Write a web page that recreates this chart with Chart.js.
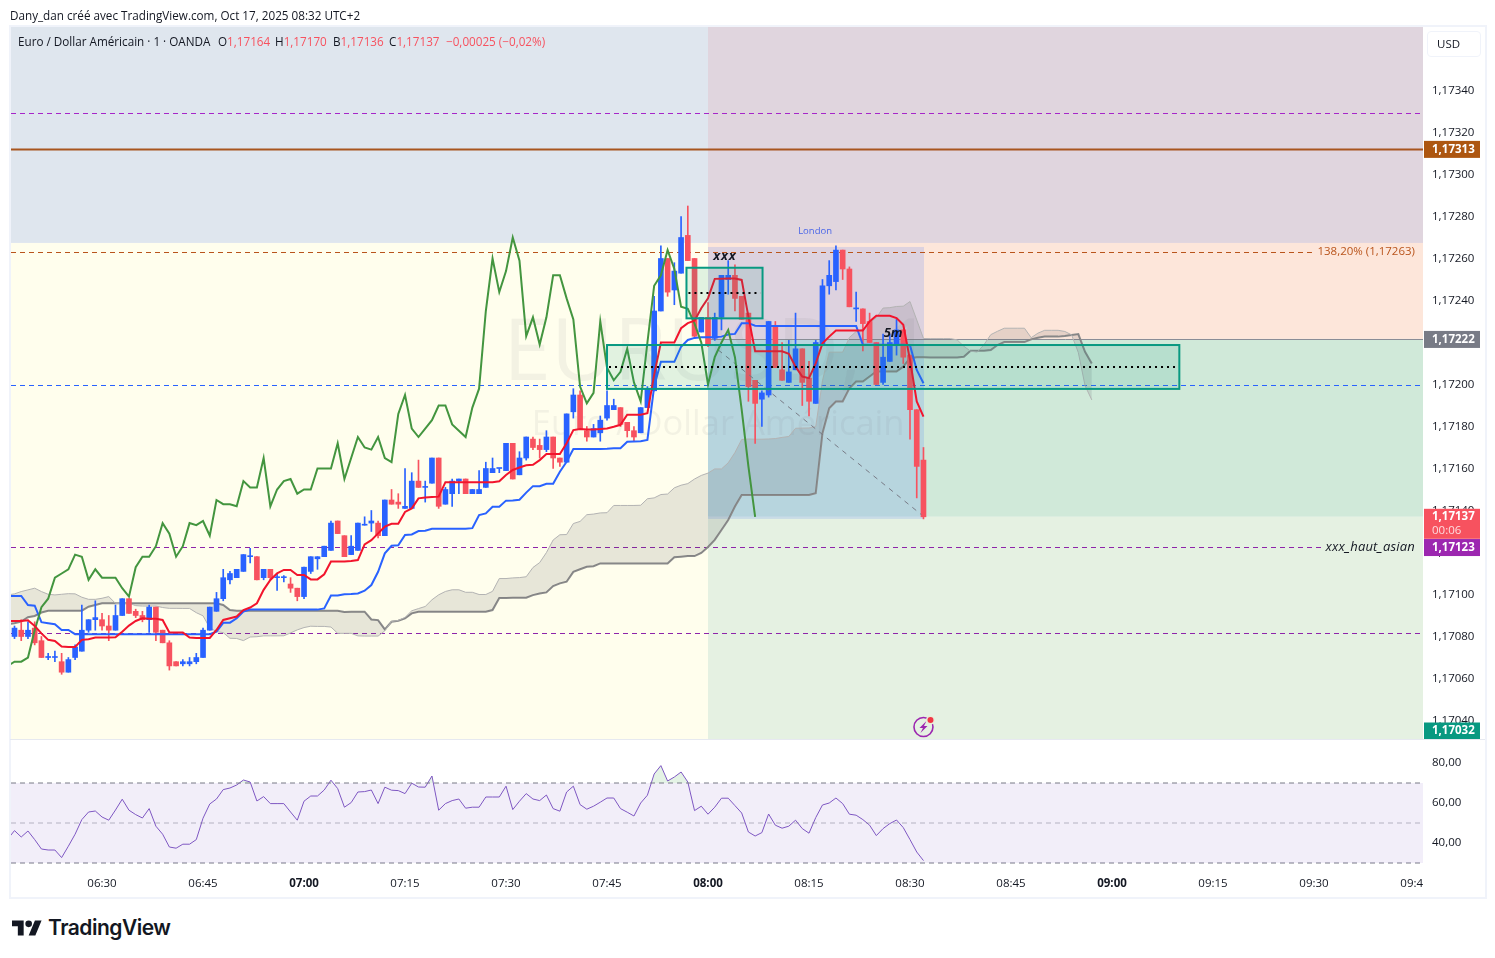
<!DOCTYPE html>
<html lang="fr">
<head>
<meta charset="utf-8">
<title>EURUSD 1 - TradingView</title>
<script src="https://cdn.jsdelivr.net/npm/chart.js@4/dist/chart.umd.min.js"></script>
<style>
  html, body { margin: 0; padding: 0; background: #fff; width: 1495px; height: 958px; overflow: hidden; }
  body { font-family: "Open Sans", sans-serif; color: #131722; position: relative; }
  canvas { position: absolute; display: block; }
  .txt { position: absolute; white-space: nowrap; font-size: 11.7px; line-height: 16px; }
  .red { color: #f7525f; }
  #frame { position: absolute; left: 9px; top: 25px; width: 1474px; height: 870px; border: 2px solid #f0f3fa; }
  #sep { position: absolute; left: 10px; top: 739px; width: 1475px; height: 1px; background: #e6e9f0; }
  #usd { position: absolute; left: 1427px; top: 31px; height: 24px; border: 1px solid #f0f3fa; border-radius: 4px; font-size: 11.5px; line-height: 24px; padding-left: 9px; width: 43px; }
  #logo { position: absolute; left: 12px; top: 920px; }
  #brand { position: absolute; left: 48px; top: 914px; font: 600 21px/28px Inter, sans-serif; letter-spacing: -0.5px; color: #131722; }
</style>
</head>
<body>
<div id="frame"></div>
<canvas id="priceChart" width="1485" height="740" style="left:0;top:0"></canvas>
<canvas id="rsiChart" width="1485" height="157" style="left:0;top:740px"></canvas>
<div id="sep"></div>
<div class="txt" style="left:10px;top:7px">Dany_dan créé avec TradingView.com, Oct 17, 2025 08:32 UTC+2</div>
<div class="txt" style="left:18px;top:33px">Euro / Dollar Américain · 1 · OANDA</div>
<div class="txt" style="left:218px;top:33px">O<span class="red">1,17164</span></div>
<div class="txt" style="left:275px;top:33px">H<span class="red">1,17170</span></div>
<div class="txt" style="left:333px;top:33px">B<span class="red">1,17136</span></div>
<div class="txt" style="left:389px;top:33px">C<span class="red">1,17137</span></div>
<div class="txt red" style="left:446px;top:33px">−0,00025 (−0,02%)</div>
<div id="usd">USD</div>
<svg id="logo" width="30" height="16" viewBox="0 4 36 18"><path fill="#131722" d="M14 22H7V11H0V4h14v18zM28 22h-8l7.5-18h8L28 22z"/><circle fill="#131722" cx="20" cy="8" r="4"/></svg>
<div id="brand">TradingView</div>

<script>
// all prices are in points above 1,17000 (84 = 1,17084)
const base = 1.17;
const firstCandle = 377;   // minutes since midnight, 06:17
const firstLine = 376;     // indicators start just off the left edge
const xMin = 376.48;
const xMax = 586.19;
const pointsMin = 31.19;
const pointsMax = 370.24;

const opens = [80,83,80,84,78,70,70,68,63,70,73,83,88,88,85,83,90,98,92,90,88,94,83,77,68,67,67,68,70,83,
  92,98,107,108,111,118,118,108,112,108,108,105,103,99,111,117,118,121,135,128,119,121,133,134,134,128,145,144,141,141,
  154,151,153,165,143,148,154,155,148,148,151,158,160,159,172,157,165,174,171,169,175,165,163,187,195,178,175,177,184,188,
  189,182,178,177,189,197,235,260,245,253,271,260,225,232,222,232,250,252,242,234,202,193,195,228,207,201,207,217,203,191,
  219,247,249,264,255,236,236,230,220,201,211,219,226,214,188,164];
const highs = [85,88,87,87,80,72,73,72,70,76,95,88,97,91,90,95,98,98,93,92,95,94,83,78,68,69,70,72,84,94,
  101,112,111,112,119,122,118,112,112,110,109,108,103,113,118,118,123,135,135,128,128,134,137,140,135,145,150,148,160,158,
  164,154,165,165,151,155,155,155,150,159,163,165,160,172,172,168,175,175,174,178,175,165,186,198,197,180,181,185,197,193,
  189,182,180,189,199,242,266,260,258,280,285,260,232,239,234,252,259,257,242,234,202,197,230,230,220,221,234,217,211,221,
  250,259,266,264,256,244,236,234,220,224,224,231,226,214,188,170];
const lows = [79,78,79,76,70,69,68,62,63,69,73,82,83,83,78,83,90,91,89,87,82,78,77,64,66,66,66,67,70,83,
  92,97,105,108,111,115,107,107,107,102,106,101,97,98,110,112,118,121,129,118,119,121,133,130,127,128,143,141,141,141,
  151,144,153,141,143,142,148,148,148,148,151,158,158,159,155,157,164,169,165,168,160,161,163,184,179,173,175,173,183,188,
  180,175,173,177,189,197,235,242,238,253,259,222,225,218,221,226,243,235,231,192,172,180,194,208,202,201,207,190,185,191,
  219,243,245,250,237,230,216,220,200,200,211,214,210,174,146,136];
const closes = [84,80,83,77,70,70,70,63,69,75,83,88,89,85,83,90,98,91,90,88,94,82,77,66,66,68,68,70,83,94,
  98,108,110,112,119,118,107,112,108,108,108,103,99,113,118,118,123,134,129,118,123,134,133,135,128,145,143,143,142,154,
  151,151,165,142,150,154,155,148,150,150,160,160,160,172,155,165,175,170,169,175,165,163,186,195,179,175,179,183,190,190,
  181,178,175,189,198,235,260,244,254,270,259,223,232,219,232,252,252,241,231,199,191,196,230,208,202,206,217,201,192,220,
  247,252,264,255,237,236,229,220,200,213,220,226,213,188,161,137];

const tenkan = [87.4,87.4,87.4,87.7,85,81.5,78.4,77.9,75.2,75,75,78.4,78.7,79.5,79.5,79.5,79.6,82.3,85.2,87.4,88.7,88.5,88.5,87.9,81.9,81.9,81.9,79.5,79.3,79.3,79.3,
  83.1,87.9,88.7,89.5,92.6,93.8,95.8,102.2,106.9,110.1,111.7,111.7,109.3,109.3,107.2,107.2,109.6,115.7,115.7,115.7,
  115.9,116.4,123.9,125.9,129.1,132.3,133.7,133.7,139.3,141,145.8,146.2,146.4,146.6,153.5,153.5,153.5,153.5,153.4,153.4,153.4,153.4,153.9,156.9,159.3,160.5,161.5,161.8,164,166.9,166.9,166.9,172,178.3,178.8,178.6,178.6,178.8,179.1,179.9,180.8,185.6,185.6,185.6,
  186.3,204.6,220,220,220,226.8,229.2,230.4,236.3,241.1,250.3,250.4,250.5,250.5,249.8,232.3,215.8,215.8,215.8,215.8,215.8,214.6,208.5,203.8,203,210.1,219.6,222.8,225.7,225.7,225.7,225.7,225.7,230,232.7,232.7,232.7,231.6,228.4,211.7,191.9,184.7];
const kijun = [99.3,99.3,99.3,95,94.7,86.8,86.3,85.8,83.1,83.1,81.1,81.1,81.1,81.1,81.1,81.1,81.1,81.1,81.1,81.1,81.1,81.1,81.1,81.1,81.1,81.1,81.1,81.1,81.1,81.1,81.1,
  82.3,86.5,86.6,88.7,91.9,92.8,92.8,92.8,92.8,92.8,92.8,92.8,92.8,92.8,92.8,92.8,93.4,99.5,99.5,100.1,
  100.2,100.5,101.8,104.5,110.8,119.6,123.2,123.4,128.3,128.6,130.2,130.4,131.3,131.3,131.3,131.3,131.3,131.3,131.6,137.8,138.6,141.8,141.8,144.7,144.8,145.1,148.5,151.6,151.6,152.7,152.7,158.5,163.2,169.3,169.3,169.3,169.3,169.3,169.4,169.7,169.7,172.7,172.9,173,
  173.6,199,210.8,210.8,210.8,218,221.2,222.2,222.5,222.5,222.5,222.8,223.8,224.1,229.2,229.2,228,227.9,227.9,227.9,227.9,227.9,227.9,227.9,227.9,227.9,227.9,227.9,227.9,227.9,227.9,227.9,218.9,218.9,218.9,218.9,218.9,218.9,218.9,218.7,206.9,200.6];
const chikou = [66,68,68,70,83,94,98,108,110,112,119,118,107,112,108,108,108,103,99,113,118,118,123,134,129,118,123,134,133,135,128,145,143,143,142,154,
  151,151,165,142,150,154,155,148,150,150,160,160,160,172,155,165,175,170,169,175,165,163,186,195,179,175,179,183,190,190,
  181,178,175,189,198,235,260,244,254,270,259,223,232,219,232,252,252,241,231,199,191,196,230,208,202,206,217,201,192,220,
  247,252,264,255,237,236,229,220,200,213,220,226,213,188,161,137];
const spanA = [99.8,100.3,101.4,102.2,103,101.4,100.1,99.8,100.1,100.4,100.3,98.7,97.7,97.7,98.2,99,95.8,95.8,95.8,94.7,94.5,94.5,94.5,93.8,93.4,93.4,
  93.35,93.35,91.35,89.85,84.15,82.35,81.85,79.15,79.05,78.05,79.75,79.9,80.3,80.3,80.3,80.35,81.7,83.15,84.25,84.9,84.8,84.8,84.5,81.5,81.5,81.5,80.3,80.2,80.2,80.2,
  82.7,87.2,87.65,89.1,92.25,93.3,94.3,97.5,99.85,101.45,102.25,102.25,101.05,101.05,100,100,101.5,107.6,107.6,107.9,
  108.05,108.45,112.85,115.2,119.95,125.95,128.45,128.55,133.8,134.8,138,138.3,138.85,138.95,142.4,142.4,142.4,142.4,142.5,145.6,146,147.6,147.85,150.8,152.05,152.8,155,156.7,157.8,159.8,159.8,162.7,167.6,173.8,174.05,173.95,173.95,174.05,174.25,174.8,175.25,179.15,179.25,179.3,
  179.95,201.8,215.4,215.4,215.4,222.4,225.2,226.3,229.4,231.8,236.4,236.6,237.15,237.3,239.5,230.75,221.9,221.85,221.85,221.85,221.85,221.25,218.2,215.85,215.45,219,223.75,225.35,226.8,226.8,226.8,226.8,222.3,224.45,225.8,225.8,225.8,225.25,223.65,215.2,199.4,192.65];
const spanB = [85.8,86.3,87.1,89.2,89.8,91.4,92.3,92.3,92.3,92.3,92.3,92.3,94.2,95,95.8,95.8,95.8,95.8,95.8,95.8,95.8,95.8,95.8,95.8,95.8,95.8,95.8,95.8,95.8,95.8,95.8,95.8,
  95,92.6,92.3,92.3,92.3,92.3,92.3,92.3,92.3,92.3,92.3,92.3,92.3,92.3,92.3,92.3,92.3,92.3,91.7,
  91.8,91.8,91.8,88.1,87.8,83.4,87,87.5,88.6,91,91.8,91.8,91.8,91.8,91.8,91.8,91.8,91.8,91.8,91.8,91.8,92.6,98.3,98.3,98.5,98.5,98.5,99.7,100.5,101,104,105.3,106.1,110.8,112,113.2,113.5,114.8,114.8,114.8,114.8,114.8,114.8,114.8,114.8,114.8,114.8,114.8,117.7,118,
  118.3,118.3,119.8,122.6,126,130.7,135.5,141.9,147.4,147.4,147.4,147.4,147.4,147.4,147.4,147.4,147.4,147.4,147.4,148.2,176.8,188.7,191.9,191.9,198.2,201.4,201.4,203.8,206.2,206.2,206.2,206.2,208.5,212.5,213,213,
  212.9,212.9,212.9,212.9,212.9,213.2,216.1,216.1,216.1,216.4,218.8,220.2,220.2,220.2,220.2,221.5,222.3,222.8,222.8,222.8,223.1,223.6,224,215.6,210];
const rsi = [42,46.2,43,46,41.7,37,36.5,36.5,32.7,38.4,44.4,51.7,55.5,56,53,51.4,56.5,61.9,56.4,54.2,52.5,57.2,48.4,44.4,38,37.4,39.4,39.4,41.7,52.4,59.5,
  62,66.7,67.5,69,71.5,70.5,61,63.2,59.7,59.7,59.7,55.5,51.4,60.9,63.5,63.5,66.5,71.4,67.2,57.9,
  60.2,65.5,65.7,66.5,59.7,67.9,66.4,66.2,64.7,69.9,68,67.9,73.5,56.4,59.7,61.2,62,57.4,57.9,57.9,63,63,63,68.4,56.7,60.9,64.7,62,61.2,64,57.2,55.9,65.5,68.4,59.2,56.9,58.4,60.4,62.5,62.5,57.2,55.4,53.5,60,
  63.9,74.5,78.7,71,73,75.5,70.5,56.2,58.4,54.4,57.9,62.4,62.4,58.7,55,45.5,43.5,45.2,54.5,48.9,47.4,48.4,51.4,47.2,44.9,52.7,59,60,62.5,59.7,54.4,53.9,51.7,48.9,43.7,47.2,49.7,51.5,47.7,41.7,35.5,31.2];

const tickMinutes = [390,405,420,435,450,465,480,495,510,525,540,555,570,585];
const tickLabels = ['06:30','06:45','07:00','07:15','07:30','07:45','08:00','08:15','08:30','08:45','09:00','09:15','09:30','09:45'];
const priceTicks = [40,60,80,100,120,140,160,180,200,220,240,260,280,300,320,340];
const rsiTicks = [80,60,40];
const rsiBands = [70,50,30];

// [from minute, to minute, low points, high points]
const zones = [
  [xMin,480,267.4,pointsMax],
  [480,xMax,267.4,pointsMax],
  [480,xMax,221.7,267.4],
  [480,xMax,137,221.7],
  [480,xMax,pointsMin,137],
  [xMin,480,pointsMin,267.4],
  [480,512.08,136,265.5]
];
const zoneColors = ['#dfe6ee','#e0d5de','#fde6da','#d0e9d9','#e5f1e2','#fffeed','rgba(41,98,255,0.15)'];

const levelPoints = [329.5,312.2,263,221.7,200,122.6,81.7];
const levelFrom = [xMin,xMin,xMin,480,xMin,xMin,xMin];
const levelTo = [xMax,xMax,569.7,xMax,xMax,571.2,xMax];
const levelColors = ['#a626c9','#a8551e','#b9541b','#8a8d96','#2962ff','#8e24aa','#8e24aa'];

// [from minute, to minute, low points, high points], dotted line in the middle
const boxes = [[476.8,488.1,231.5,255.6],[465,550,197.9,218.8]];

const trendMinutes = [481.5,511.7];
const trendPoints = [216.5,138];

const noteLabels = ['London','xxx','5m','138,20% (1,17263)','xxx_haut_asian'];
const noteMinutes = [495.9,482.5,507.5,585,585];
const notePoints = [273,261.2,224.5,263,122.6];

const axisLabels = ['1,17313','1,17222','1,17123','1,17032'];
const axisLabelPoints = [312.2,221.7,122.6,32];
const axisLabelColors = ['#ad5610','#787b86','#9c27b0','#089981'];

const toPrice = v => base + v / 1e5;
const series = (values, start) => values.map((v, i) => ({ x: start + i, y: toPrice(v) }));
const comma = (v, d) => v.toFixed(d).replace('.', ',');
const candleColors = closes.map((c, i) => c < opens[i] ? '#f7525f' : '#2962ff');
const noPadding = s => { s.paddingTop = 0; s.paddingBottom = 0; s.paddingLeft = 0; s.paddingRight = 0; };

Chart.defaults.font.family = '"Open Sans", sans-serif';
Chart.defaults.font.size = 11.5;
Chart.defaults.color = '#131722';

const overlayPlugin = {
  id: 'overlay',
  beforeDatasetsDraw(chart) {
    const { ctx, chartArea: a } = chart;
    const px = t => chart.scales.x.getPixelForValue(t);
    const py = v => chart.scales.y.getPixelForValue(toPrice(v));
    ctx.save();
    ctx.beginPath();
    ctx.rect(a.left, a.top, a.right - a.left, a.bottom - a.top);
    ctx.clip();
    zones.forEach((z, i) => {
      ctx.fillStyle = zoneColors[i];
      ctx.fillRect(px(z[0]), py(z[3]), px(z[1]) - px(z[0]), py(z[2]) - py(z[3]));
    });
    levelPoints.forEach((v, i) => {
      ctx.strokeStyle = levelColors[i];
      ctx.lineWidth = i === 1 ? 2 : 1;
      ctx.setLineDash(i === 1 || i === 3 ? [] : [5, 4]);
      ctx.beginPath();
      ctx.moveTo(px(levelFrom[i]), Math.round(py(v)) + 0.5);
      ctx.lineTo(px(levelTo[i]), Math.round(py(v)) + 0.5);
      ctx.stroke();
    });
    ctx.setLineDash([]);
    ctx.textAlign = 'center';
    ctx.textBaseline = 'middle';
    ctx.fillStyle = 'rgba(120,123,134,0.09)';
    ctx.font = '86px "Open Sans", sans-serif';
    ctx.fillText('EURUSD, 1', px(481.5), py(214));
    ctx.font = '34.5px "Open Sans", sans-serif';
    ctx.fillText('Euro / Dollar Américain', px(481.5), py(180.7));
    ctx.restore();
  },
  afterDatasetsDraw(chart) {
    const { ctx, chartArea: a } = chart;
    const px = t => chart.scales.x.getPixelForValue(t);
    const py = v => chart.scales.y.getPixelForValue(toPrice(v));
    ctx.save();
    ctx.beginPath();
    ctx.rect(a.left, a.top, a.right - a.left, a.bottom - a.top);
    ctx.clip();
    boxes.forEach(b => {
      const x = px(b[0]), w = px(b[1]) - x, y = py(b[3]), h = py(b[2]) - y;
      ctx.fillStyle = 'rgba(8,153,129,0.12)';
      ctx.fillRect(x, y, w, h);
      ctx.strokeStyle = '#089981';
      ctx.lineWidth = 2;
      ctx.strokeRect(x, y, w, h);
      ctx.strokeStyle = '#000';
      ctx.setLineDash([2, 4]);
      ctx.beginPath();
      ctx.moveTo(x + 2, y + h / 2);
      ctx.lineTo(x + w - 2, y + h / 2);
      ctx.stroke();
      ctx.setLineDash([]);
    });

    // notes
    ctx.textBaseline = 'middle';
    ctx.textAlign = 'center';
    ctx.fillStyle = '#4a66e8';
    ctx.font = '9.5px "Open Sans", sans-serif';
    ctx.fillText(noteLabels[0], px(noteMinutes[0]), py(notePoints[0]));
    ctx.fillStyle = '#131722';
    ctx.font = 'italic bold 13px "Open Sans", sans-serif';
    ctx.letterSpacing = '0.8px';
    ctx.fillText(noteLabels[1], px(noteMinutes[1]), py(notePoints[1]));
    ctx.letterSpacing = '0px';
    ctx.fillText(noteLabels[2], px(noteMinutes[2]), py(notePoints[2]));
    ctx.textAlign = 'right';
    ctx.fillStyle = '#b9541b';
    ctx.font = '11.5px "Open Sans", sans-serif';
    ctx.fillText(noteLabels[3], px(noteMinutes[3]), py(notePoints[3]));
    ctx.fillStyle = '#131722';
    ctx.font = 'italic 13px "Open Sans", sans-serif';
    ctx.letterSpacing = '0.2px';
    ctx.fillText(noteLabels[4], px(noteMinutes[4]), py(notePoints[4]));
    ctx.letterSpacing = '0px';

    // event icon under the last bar
    const ix = px(512), iy = a.bottom - 12;
    ctx.strokeStyle = '#9c27b0';
    ctx.lineWidth = 1.6;
    ctx.beginPath();
    ctx.arc(ix, iy, 9.5, 0, Math.PI * 2);
    ctx.stroke();
    ctx.fillStyle = '#9c27b0';
    ctx.beginPath();
    ctx.moveTo(ix + 3, iy - 6);
    ctx.lineTo(ix - 4, iy + 1);
    ctx.lineTo(ix - 0.5, iy + 1);
    ctx.lineTo(ix - 3, iy + 6);
    ctx.lineTo(ix + 4, iy - 1);
    ctx.lineTo(ix + 0.5, iy - 1);
    ctx.closePath();
    ctx.fill();
    ctx.fillStyle = '#e8edd9';
    ctx.beginPath();
    ctx.arc(ix + 7, iy - 7, 4.5, 0, Math.PI * 2);
    ctx.fill();
    ctx.fillStyle = '#f23645';
    ctx.beginPath();
    ctx.arc(ix + 7, iy - 7, 3, 0, Math.PI * 2);
    ctx.fill();
    ctx.restore();

    // price labels on the axis
    ctx.save();
    ctx.textAlign = 'left';
    ctx.textBaseline = 'middle';
    const lx = a.right + 1;
    ctx.fillStyle = '#f7525f';
    ctx.fillRect(lx, py(137) - 8, 56, 30);
    ctx.fillStyle = '#fff';
    ctx.font = 'bold 11.5px "Open Sans", sans-serif';
    ctx.fillText('1,17137', lx + 8, py(137));
    ctx.font = '11.5px "Open Sans", sans-serif';
    ctx.fillStyle = 'rgba(255,255,255,0.8)';
    ctx.fillText('00:06', lx + 8, py(137) + 14);
    axisLabels.forEach((t, i) => {
      const y = Math.min(py(axisLabelPoints[i]), a.bottom - 8.5);
      ctx.fillStyle = axisLabelColors[i];
      ctx.fillRect(lx, y - 8, 56, 17);
      ctx.fillStyle = '#fff';
      ctx.font = 'bold 11.5px "Open Sans", sans-serif';
      ctx.fillText(t, lx + 8, y + 0.5);
    });
    ctx.restore();
  }
};

new Chart(document.getElementById('priceChart').getContext('2d'), {
  type: 'bar',
  data: {
    datasets: [
      { type: 'line', data: series(spanA, firstLine), borderColor: '#b3b3b3', borderWidth: 1, pointRadius: 0, tension: 0,
        fill: '+1', backgroundColor: 'rgba(67,70,81,0.13)', order: 5 },
      { type: 'line', data: series(spanB, firstLine), borderColor: '#8c8c8c', borderWidth: 2, pointRadius: 0, tension: 0, order: 5 },
      { type: 'bar', data: lows.map((l, i) => ({ x: firstCandle + i, y: [toPrice(l), toPrice(highs[i])] })),
        backgroundColor: candleColors, barThickness: 1, grouped: false, order: 4 },
      { type: 'bar', data: opens.map((o, i) => ({ x: firstCandle + i, y: [toPrice(o), toPrice(closes[i])] })),
        backgroundColor: candleColors, barThickness: 5, minBarLength: 1, grouped: false, order: 3 },
      { type: 'line', data: trendMinutes.map((t, i) => ({ x: t, y: toPrice(trendPoints[i]) })), borderColor: '#787b86',
        borderWidth: 1, borderDash: [5, 5], pointRadius: 0, order: 2 },
      { type: 'line', data: series(chikou, firstLine), borderColor: '#43953f', borderWidth: 2, pointRadius: 0, tension: 0, order: 1 },
      { type: 'line', data: series(kijun, firstLine), borderColor: '#2962ff', borderWidth: 2, pointRadius: 0, tension: 0, order: 1 },
      { type: 'line', data: series(tenkan, firstLine), borderColor: '#f2142c', borderWidth: 2, pointRadius: 0, tension: 0, order: 0 }
    ]
  },
  options: {
    responsive: false,
    animation: false,
    events: [],
    layout: { padding: { left: 11, top: 27, bottom: 1, right: 0 } },
    plugins: { legend: { display: false }, tooltip: { enabled: false } },
    scales: {
      x: { type: 'linear', min: xMin, max: xMax, display: false, offset: false },
      y: {
        position: 'right',
        min: toPrice(pointsMin),
        max: toPrice(pointsMax),
        grid: { display: false, drawTicks: false },
        border: { display: false },
        afterBuildTicks: s => { s.ticks = priceTicks.map(v => ({ value: toPrice(v) })); },
        afterFit: s => { s.width = 62; noPadding(s); },
        ticks: { padding: 9, callback: v => comma(v, 5), autoSkip: false, font: { size: 11.5 } }
      }
    }
  },
  plugins: [overlayPlugin]
});

const clipLastTick = {
  id: 'clipLastTick',
  afterDraw(chart) {
    const { ctx, chartArea: a } = chart;
    ctx.fillStyle = '#fff';
    ctx.fillRect(a.right, a.bottom + 1, 40, 26);
  }
};

new Chart(document.getElementById('rsiChart').getContext('2d'), {
  type: 'line',
  data: {
    datasets: [
      { data: [{ x: xMin, y: rsiBands[0] }, { x: xMax, y: rsiBands[0] }], borderColor: '#787b86', borderWidth: 1, borderDash: [5, 4],
        pointRadius: 0, fill: '+2', backgroundColor: 'rgba(126,87,194,0.1)' },
      { data: [{ x: xMin, y: rsiBands[1] }, { x: xMax, y: rsiBands[1] }], borderColor: 'rgba(120,123,134,0.5)', borderWidth: 1, borderDash: [5, 4], pointRadius: 0 },
      { data: [{ x: xMin, y: rsiBands[2] }, { x: xMax, y: rsiBands[2] }], borderColor: '#787b86', borderWidth: 1, borderDash: [5, 4], pointRadius: 0 },
      { data: rsi.map((v, i) => ({ x: firstLine + i, y: v })), borderColor: '#7e57c2', borderWidth: 1, pointRadius: 0, tension: 0,
        fill: { target: { value: 70 }, above: 'rgba(76,175,80,0.15)', below: 'transparent' } }
    ]
  },
  options: {
    responsive: false,
    animation: false,
    events: [],
    layout: { padding: { left: 11, top: 0, bottom: 0, right: 0 } },
    plugins: { legend: { display: false }, tooltip: { enabled: false } },
    scales: {
      x: {
        type: 'linear',
        min: xMin,
        max: xMax,
        grid: { display: false, drawTicks: false },
        border: { display: false },
        afterBuildTicks: s => { s.ticks = tickMinutes.map(v => ({ value: v, major: v % 60 === 0 })); },
        afterFit: s => { s.height = 28; noPadding(s); },
        ticks: {
          autoSkip: false,
          maxRotation: 0,
          padding: 8,
          callback: (v, i) => tickLabels[i],
          font: c => ({ size: 11.5, weight: c.tick && c.tick.value % 60 === 0 ? 'bold' : 'normal' })
        }
      },
      y: {
        position: 'right',
        min: 27,
        max: 91.5,
        grid: { display: false, drawTicks: false },
        border: { display: false },
        afterBuildTicks: s => { s.ticks = rsiTicks.map(v => ({ value: v })); },
        afterFit: s => { s.width = 62; noPadding(s); },
        ticks: { padding: 9, callback: v => comma(v, 2), autoSkip: false }
      }
    }
  },
  plugins: [clipLastTick]
});
</script>
</body>
</html>
